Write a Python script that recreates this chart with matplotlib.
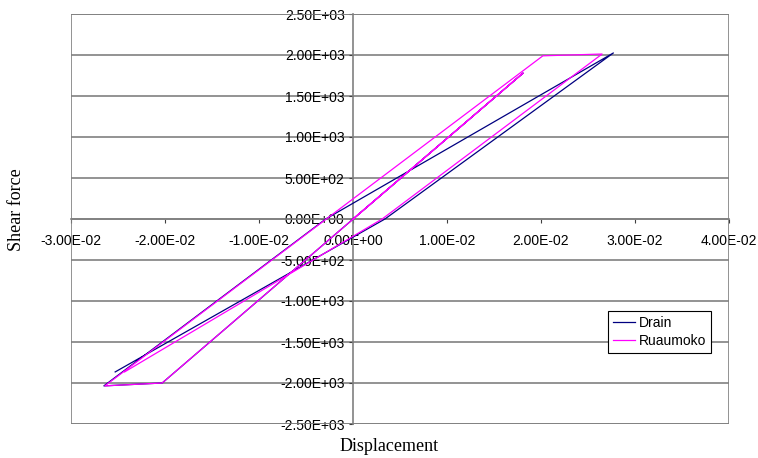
import matplotlib
matplotlib.use("Agg")
import matplotlib.pyplot as plt
from matplotlib.patches import Rectangle
from matplotlib.ticker import FormatStrFormatter, MultipleLocator

#---Hysteresis loops (displacement, shear force) for each program:
drain_disp = [0.0, 0.0181, -0.0203, -0.0265, -0.0029, 0.0277, 0.0034, -0.0253]
drain_force = [0.0, 1780.0, -2000.0, -2035.0, 0.0, 2025.0, 0.0, -1865.0]

ruaumoko_disp = [0.0, 0.0181, -0.0203, -0.0264, 0.0202, 0.0265, 0.0031, -0.0243]
ruaumoko_force = [0.0, 1780.0, -2000.0, -2035.0, 1990.0, 2012.0, 0.0, -1865.0]

series_names = ["Drain", "Ruaumoko"]
series_colors = ["#000080", "#FF00FF"]

#---Figure and plot area:
fig = plt.figure(figsize=(7.58, 4.58), dpi=100)
ax = fig.add_axes([71 / 758, 34 / 458, 658 / 758, 410 / 458])

ax.set_xlim(-0.03, 0.04)
ax.set_ylim(-2500, 2500)

#---Horizontal gridlines only:
ax.yaxis.set_major_locator(MultipleLocator(500))
ax.xaxis.set_major_locator(MultipleLocator(0.01))
ax.grid(axis="y", color="#808080", linewidth=1.2, zorder=0)
ax.set_axisbelow(True)

#---Axes cross at zero, outer frame drawn separately:
ax.spines["left"].set_position(("data", 0))
ax.spines["bottom"].set_position(("data", 0))
ax.spines["top"].set_visible(False)
ax.spines["right"].set_visible(False)
for side in ["left", "bottom"]:
    ax.spines[side].set_color("#808080")
    ax.spines[side].set_linewidth(1.2)
ax.add_patch(Rectangle((0, 0), 1, 1, transform=ax.transAxes, fill=False,
                       edgecolor="#808080", linewidth=1.2, zorder=1))

ax.xaxis.set_major_formatter(FormatStrFormatter("%.2E"))
ax.yaxis.set_major_formatter(FormatStrFormatter("%.2E"))
ax.tick_params(axis="both", direction="out", length=3, width=0.8,
               color="#404040", labelsize=10)
ax.tick_params(axis="x", pad=8)
ax.tick_params(axis="y", pad=3)
for lbl in ax.get_xticklabels() + ax.get_yticklabels():
    lbl.set_family("Liberation Sans")

#---Data lines:
ax.plot(drain_disp, drain_force, color=series_colors[0], linewidth=0.9,
        label=series_names[0], zorder=3)
ax.plot(ruaumoko_disp, ruaumoko_force, color=series_colors[1], linewidth=0.9,
        label=series_names[1], zorder=4)

#---Axis titles:
ax.set_xlabel("Displacement", family="Liberation Serif", fontsize=13)
ax.xaxis.set_label_coords(0.484, -0.033)
ax.set_ylabel("Shear force", family="Liberation Serif", fontsize=13)
ax.yaxis.set_label_coords(-0.070, 0.524)

#---Legend:
leg = ax.legend(loc="upper left", bbox_to_anchor=(0.816, 0.2756), borderaxespad=0,
                fancybox=False, framealpha=1, edgecolor="black",
                prop={"family": "Liberation Sans", "size": 10},
                handlelength=1.6, handletextpad=0.3, borderpad=0.35,
                labelspacing=0.3)
leg.get_frame().set_linewidth(0.8)

fig.savefig("out.png", dpi=100)
